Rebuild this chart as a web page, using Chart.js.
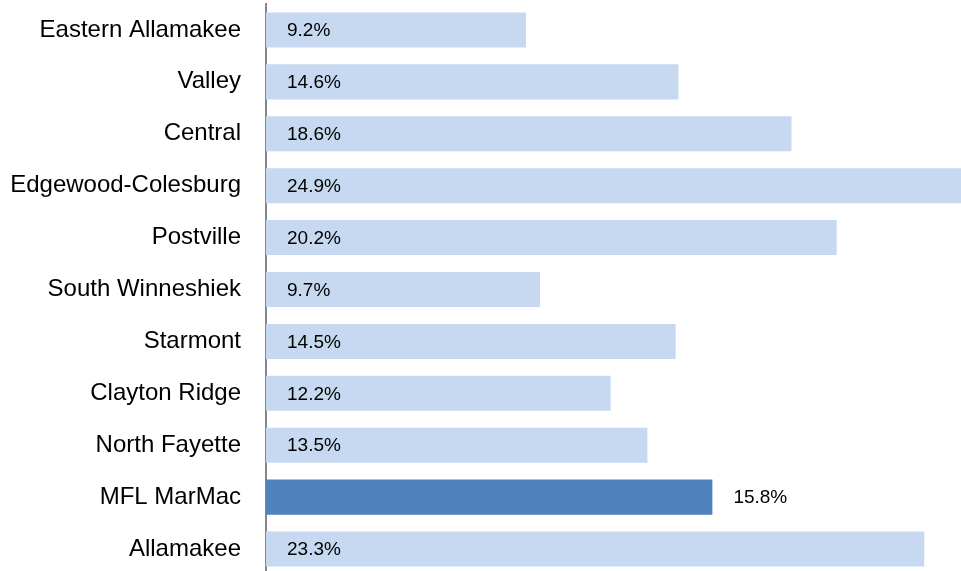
<!DOCTYPE html>
<html>
<head>
<meta charset="utf-8">
<script src="https://cdn.jsdelivr.net/npm/chart.js@4.4.1/dist/chart.umd.min.js"></script>
<style>
  html, body { margin: 0; padding: 0; background: #fff; overflow: hidden; }
  canvas { display: block; }
</style>
</head>
<body>
<canvas id="barChart" width="961" height="575"></canvas>
<script>
const districts = ['Eastern Allamakee', 'Valley', 'Central', 'Edgewood-Colesburg', 'Postville',
  'South Winneshiek', 'Starmont', 'Clayton Ridge', 'North Fayette', 'MFL MarMac', 'Allamakee'];
const percents = [9.2, 14.6, 18.6, 24.9, 20.2, 9.7, 14.5, 12.2, 13.5, 15.8, 23.3];
const highlight = 'MFL MarMac';

const lightBlue = '#c6d9f1';
const darkBlue = '#4f81bd';
const fontFamily = '"Liberation Sans", Arial, sans-serif';

// value labels drawn inside the bar near the axis, outside for the highlighted one
const valueLabels = {
  id: 'valueLabels',
  afterDatasetsDraw(chart) {
    const ctx = chart.ctx;
    const xScale = chart.scales.x;
    const meta = chart.getDatasetMeta(0);
    ctx.save();
    ctx.font = '19px ' + fontFamily;
    ctx.fillStyle = '#000';
    ctx.textBaseline = 'middle';
    ctx.textAlign = 'left';
    meta.data.forEach((bar, i) => {
      const txt = percents[i].toFixed(1) + '%';
      let x;
      if (districts[i] === highlight) {
        x = bar.x + 21;
      } else {
        x = xScale.getPixelForValue(0) + 21;
      }
      ctx.fillText(txt, x, bar.y + 1);
    });
    ctx.restore();
  }
};

const ctx = document.getElementById('barChart').getContext('2d');
new Chart(ctx, {
  type: 'bar',
  data: {
    labels: districts,
    datasets: [{
      data: percents,
      backgroundColor: districts.map(d => d === highlight ? darkBlue : lightBlue),
      borderWidth: 0,
      categoryPercentage: 0.675,
      barPercentage: 1.0
    }]
  },
  options: {
    indexAxis: 'y',
    responsive: false,
    animation: false,
    layout: { padding: { top: 4, right: 0, bottom: 0, left: 0 } },
    plugins: {
      legend: { display: false },
      tooltip: { enabled: false }
    },
    scales: {
      x: {
        min: 0,
        max: 24.6,
        display: false
      },
      y: {
        afterFit(scale) {
          scale.width = 266;
          scale.paddingTop = 0;
          scale.paddingBottom = 0;
        },
        grid: { display: false, drawTicks: false },
        border: { display: true, color: '#868686', width: 2 },
        ticks: {
          color: '#000',
          padding: 25,
          autoSkip: false,
          font: { family: fontFamily, size: 24 }
        }
      }
    }
  },
  plugins: [valueLabels]
});
</script>
</body>
</html>
